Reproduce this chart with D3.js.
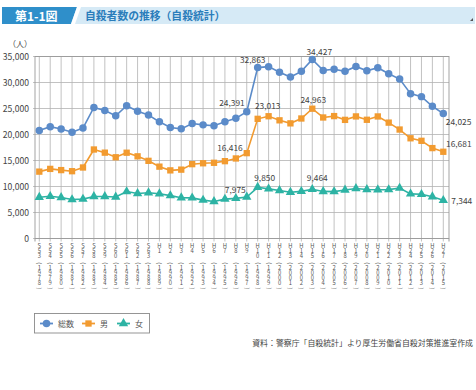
<!DOCTYPE html>
<html>
<head>
<meta charset="utf-8">
<script src="https://cdn.jsdelivr.net/npm/d3@7"></script>
<style>
body { margin:0; background:#fff; }
text { font-family:"Noto Sans CJK JP","Noto Sans",sans-serif; }
</style>
</head>
<body>
<svg id="wrapper"></svg>
<script>
// categories (era / western year)
let eras = ["S53","S54","S55","S56","S57","S58","S59","S60","S61","S62","S63",
  "H1","H2","H3","H4","H5","H6","H7","H8","H9","H10","H11","H12","H13","H14","H15",
  "H16","H17","H18","H19","H20","H21","H22","H23","H24","H25","H26","H27"];
let years = ["1978","1979","1980","1981","1982","1983","1984","1985","1986","1987","1988",
  "1989","1990","1991","1992","1993","1994","1995","1996","1997","1998","1999","2000",
  "2001","2002","2003","2004","2005","2006","2007","2008","2009","2010","2011","2012",
  "2013","2014","2015"];

// series values
let total = [20788,21503,21048,20434,21228,25202,24596,23599,25524,24460,23742,
  22436,21346,21084,22104,21851,21679,22445,23104,24391,32863,33048,31957,31042,
  32143,34427,32325,32552,32155,33093,32249,32845,31690,30651,27858,27283,25427,24025];
let male = [12859,13386,13155,12942,13654,17116,16508,15624,16497,15802,14934,
  13818,13102,13242,14296,14468,14560,14874,15393,16416,23013,23512,22727,22144,
  23080,24963,23272,23540,22813,23478,22831,23472,22283,20955,19273,18787,17386,16681];
let female = [7929,8117,7893,7492,7574,8086,8088,7975,9027,8658,8808,
  8618,8244,7842,7808,7383,7119,7571,7711,7975,9850,9536,9230,8898,
  9063,9464,9053,9012,9342,9615,9418,9373,9407,9696,8585,8496,8041,7344];

let yTicks = [0,5000,10000,15000,20000,25000,30000,35000];
let seriesNames = ["総数","男","女"];
let labelledYears = ["1997","1998","2003","2015"];

let width = 476, height = 390;
let svg = d3.select('#wrapper').attr('width',width).attr('height',height);

// header band
svg.append('polygon').attr('points','2,7 475,7 475,24 2,24').attr('fill','#d6eaf6');
svg.append('polygon').attr('points','2,7 77,7 71,24 2,24').attr('fill','#2f8fca');
svg.append('polygon').attr('points','77,7 81,7 75,24 71,24').attr('fill','#fff');
svg.append('polygon').attr('points','470,21 473,18 473,21').attr('fill','#555');
svg.append('text').attr('x',15).attr('y',20.5).attr('fill','#fff')
  .attr('font-size',12).attr('font-weight','bold').text('第1-1図');
svg.append('text').attr('x',85).attr('y',20).attr('fill','#2a7dbb')
  .attr('font-size',10.8).attr('font-weight','bold').text('自殺者数の推移（自殺統計）');

// scales
let xScale = d3.scalePoint().domain(years).range([39.3,443.3]);
let yScale = d3.scaleLinear().domain([0,35000]).range([238.5,56.5]);
let left = 35, right = 449;

let chart = svg.append('g');

// grid
chart.selectAll('.hgrid').data(yTicks).enter().append('line')
  .attr('x1',left-2).attr('x2',right)
  .attr('y1',d=>yScale(d)).attr('y2',d=>yScale(d))
  .attr('stroke','#b3b3b3').attr('stroke-width',0.8);
chart.selectAll('.vgrid').data(years).enter().append('line')
  .attr('x1',d=>xScale(d)).attr('x2',d=>xScale(d))
  .attr('y1',yScale(35000)).attr('y2',yScale(0)+3)
  .attr('stroke','#b3b3b3').attr('stroke-width',0.8);
chart.append('rect').attr('x',left).attr('y',yScale(35000))
  .attr('width',right-left).attr('height',yScale(0)-yScale(35000))
  .attr('fill','none').attr('stroke','#9a9a9a').attr('stroke-width',0.9);
chart.append('line').attr('x1',left).attr('x2',left)
  .attr('y1',yScale(0)).attr('y2',yScale(0)+3).attr('stroke','#9a9a9a');
chart.append('line').attr('x1',right).attr('x2',right)
  .attr('y1',yScale(0)).attr('y2',yScale(0)+3).attr('stroke','#9a9a9a');

// y axis labels
let yAxis = d3.axisLeft(yScale).tickValues(yTicks).tickSize(0).tickPadding(6)
  .tickFormat(d3.format(','));
let yg = chart.append('g').attr('transform','translate('+left+',0)').call(yAxis);
yg.select('.domain').remove();
yg.selectAll('text').attr('font-size',8.6).attr('fill','#444')
  .style('font-family','"Noto Sans CJK JP",sans-serif');
svg.append('text').attr('x',8).attr('y',47).attr('font-size',8).attr('fill','#444').text('（人）');

// x labels, characters stacked vertically
let fs = 5.8;
years.forEach(function(yr,i){
  let x = xScale(yr);
  let g = chart.append('g').attr('fill','#555').attr('font-size',fs).attr('text-anchor','middle');
  eras[i].split('').forEach(function(c,k){
    g.append('text').attr('x',x).attr('y',248.1+k*4.7).text(c);
  });
  g.append('text').attr('transform','translate('+x+',263.3) rotate(90)')
    .attr('dy','0.35em').text('(');
  yr.split('').forEach(function(c,k){
    g.append('text').attr('x',x).attr('y',270.4+k*5).text(c);
  });
  g.append('text').attr('transform','translate('+x+',288.5) rotate(90)')
    .attr('dy','0.35em').text(')');
});

// series
let series = [
  {name:seriesNames[0], values:total, color:'#5b8bc9', shape:d3.symbolCircle, size:44},
  {name:seriesNames[1], values:male, color:'#f29b30', shape:d3.symbolSquare, size:40},
  {name:seriesNames[2], values:female, color:'#2db3a4', shape:d3.symbolTriangle, size:38}
];

let line = d3.line().x((d,i)=>xScale(years[i])).y(d=>yScale(d));

series.forEach(function(s){
  chart.append('path').datum(s.values).attr('d',line)
    .attr('fill','none').attr('stroke',s.color).attr('stroke-width',1.6);
  chart.selectAll(null).data(s.values).enter().append('path')
    .attr('d',d3.symbol().type(s.shape).size(s.size))
    .attr('transform',(d,i)=>'translate('+xScale(years[i])+','+yScale(d)+')')
    .attr('fill',s.color);
});

// value labels: placement per series around the point
let place = [
  {'1997':[-2,-6,'end'],'1998':[-5,-5,'middle'],'2003':[7,-4.5,'middle'],'2015':[2.5,11.5,'start']},
  {'1997':[-4,-2,'end'],'1998':[10,-10,'middle'],'2003':[1,-5.4,'middle'],'2015':[2.7,-5,'start']},
  {'1997':[-1,-4.3,'end'],'1998':[7,-6.3,'middle'],'2003':[5,-8,'middle'],'2015':[8,3.7,'start']}
];
series.forEach(function(s,si){
  labelledYears.forEach(function(yr){
    let i = years.indexOf(yr);
    let p = place[si][yr];
    chart.append('text').attr('x',xScale(yr)+p[0]).attr('y',yScale(s.values[i])+p[1])
      .attr('text-anchor',p[2]).attr('font-size',8.4).attr('fill','#444')
      .text(d3.format(',')(s.values[i]));
  });
});

// legend
let lg = svg.append('g');
lg.append('rect').attr('x',34.5).attr('y',313.5).attr('width',115).attr('height',19.5)
  .attr('fill','#fff').attr('stroke','#8a8a8a').attr('stroke-width',0.9);
let legX = [40,82,117];
series.forEach(function(s,si){
  let x0 = legX[si];
  lg.append('line').attr('x1',x0).attr('x2',x0+13).attr('y1',323.5).attr('y2',323.5)
    .attr('stroke',s.color).attr('stroke-width',1.8);
  lg.append('path').attr('d',d3.symbol().type(s.shape).size(s.size))
    .attr('transform','translate('+(x0+6.5)+',323.5)').attr('fill',s.color);
  lg.append('text').attr('x',x0+18).attr('y',326.5).attr('font-size',8)
    .attr('fill','#555').text(s.name);
});

svg.append('text').attr('x',473).attr('y',346).attr('text-anchor','end')
  .attr('font-size',7.9).attr('fill','#444')
  .text('資料：警察庁「自殺統計」より厚生労働省自殺対策推進室作成');
</script>
</body>
</html>
